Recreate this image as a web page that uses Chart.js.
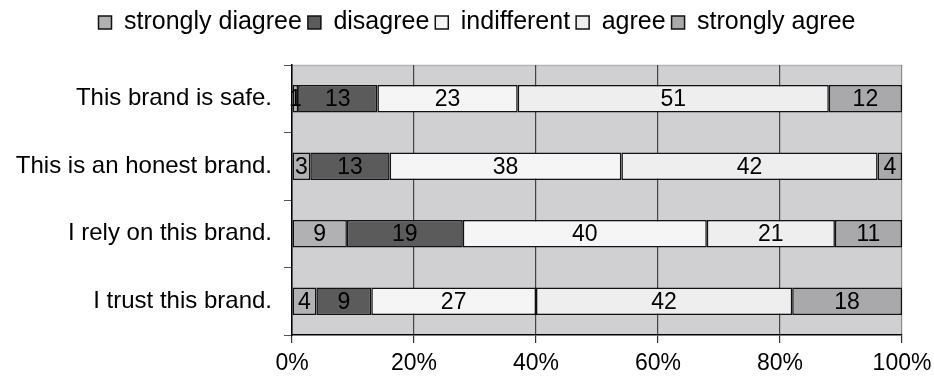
<!DOCTYPE html>
<html>
<head>
<meta charset="utf-8">
<script src="https://cdn.jsdelivr.net/npm/chart.js@4.4.1/dist/chart.umd.min.js"></script>
<style>
  html, body { margin: 0; padding: 0; background: #fff; }
  #wrap { width: 934px; height: 383px; }
</style>
</head>
<body>
<div id="wrap"><canvas id="chart" width="934" height="383"></canvas></div>
<script>
// categories, top to bottom
const statements = ['This brand is safe.', 'This is an honest brand.', 'I rely on this brand.', 'I trust this brand.'];
const answerLabels = ['strongly diagree', 'disagree', 'indifferent', 'agree', 'strongly agree'];
// share of answers (%) per statement
const stronglyDisagree = [1, 3, 9, 4];
const disagree = [13, 13, 19, 9];
const indifferent = [23, 38, 40, 27];
const agree = [51, 42, 21, 42];
const stronglyAgree = [12, 4, 11, 18];
const xTicks = [0, 20, 40, 60, 80, 100];

const fillColors = ['#b1b1b3', '#5b5b5b', '#f5f5f5', '#eeeeee', '#a9a9ab'];
const FONT = '"Liberation Sans", Arial, Helvetica, sans-serif';

// fond gris de la zone de tracé
const plotBg = {
  id: 'plotBg',
  beforeDraw(chart) {
    const {ctx, chartArea: a} = chart;
    ctx.save();
    ctx.fillStyle = '#d0d0d2';
    ctx.fillRect(a.left, a.top, a.right - a.left, a.bottom - a.top);
    ctx.strokeStyle = '#b4b4b4';
    ctx.lineWidth = 1.5;
    ctx.beginPath();
    ctx.moveTo(a.left, a.top + 0.5);
    ctx.lineTo(a.right, a.top + 0.5);
    ctx.stroke();
    ctx.restore();
  }
};

// décale la légende un peu vers la droite
const legendShift = {
  id: 'legendShift',
  afterLayout(chart) {
    if (chart.legend) {
      chart.legend.left += 26;
      chart.legend.right += 26;
    }
  }
};

// valeurs au milieu de chaque segment
const barValues = {
  id: 'barValues',
  afterDatasetsDraw(chart) {
    const ctx = chart.ctx;
    ctx.save();
    ctx.font = '23px ' + FONT;
    ctx.fillStyle = '#000';
    ctx.textAlign = 'center';
    ctx.textBaseline = 'middle';
    chart.data.datasets.forEach((ds, i) => {
      chart.getDatasetMeta(i).data.forEach((bar, j) => {
        const cx = (bar.x + bar.base) / 2;
        ctx.fillText(String(ds.data[j]), cx, bar.y + 1);
      });
    });
    ctx.restore();
  }
};

const series = [stronglyDisagree, disagree, indifferent, agree, stronglyAgree];

new Chart(document.getElementById('chart'), {
  type: 'bar',
  data: {
    labels: statements,
    datasets: series.map((d, i) => ({
      label: answerLabels[i],
      data: d,
      backgroundColor: fillColors[i],
      borderColor: '#111',
      borderWidth: 1.5,
      borderSkipped: false,
      categoryPercentage: 1,
      barPercentage: 0.41
    }))
  },
  options: {
    indexAxis: 'y',
    responsive: false,
    animation: false,
    layout: { padding: { top: 4, right: 32, left: 0, bottom: 0 } },
    plugins: {
      legend: {
        position: 'top',
        labels: {
          font: { family: FONT, size: 25 },
          color: '#000',
          boxWidth: 13,
          boxHeight: 13,
          padding: 6,
          useBorderRadius: false
        }
      },
      tooltip: { enabled: false }
    },
    scales: {
      x: {
        stacked: true,
        min: 0,
        max: 100,
        afterBuildTicks: s => { s.ticks = xTicks.map(v => ({ value: v })); },
        afterFit: s => { s.height = 48; s.paddingRight = 0; s.paddingLeft = 0; },
        ticks: {
          callback: v => v + '%',
          font: { family: FONT, size: 23 },
          color: '#000',
          padding: 7,
          maxRotation: 0
        },
        grid: {
          color: ctx => ctx.tick && ctx.tick.value === 100 ? '#8a8a8a' : '#444',
          tickColor: '#333',
          tickLength: 8,
          lineWidth: 1.2
        },
        border: { color: '#000', width: 1.5 }
      },
      xTop: {
        axis: 'x',
        position: 'top',
        display: true,
        afterFit: s => { s.height = 20; s.paddingRight = 0; s.paddingLeft = 0; },
        ticks: { display: false },
        grid: { display: false },
        border: { display: false }
      },
      y: {
        stacked: true,
        afterFit: s => { s.width = 292; },
        ticks: {
          font: { family: FONT, size: 24 },
          color: '#000',
          padding: 12
        },
        grid: {
          offset: true,
          drawOnChartArea: false,
          tickLength: 8,
          color: '#555'
        },
        border: { color: '#000', width: 1.5 }
      }
    }
  },
  plugins: [plotBg, legendShift, barValues]
});
</script>
</body>
</html>
